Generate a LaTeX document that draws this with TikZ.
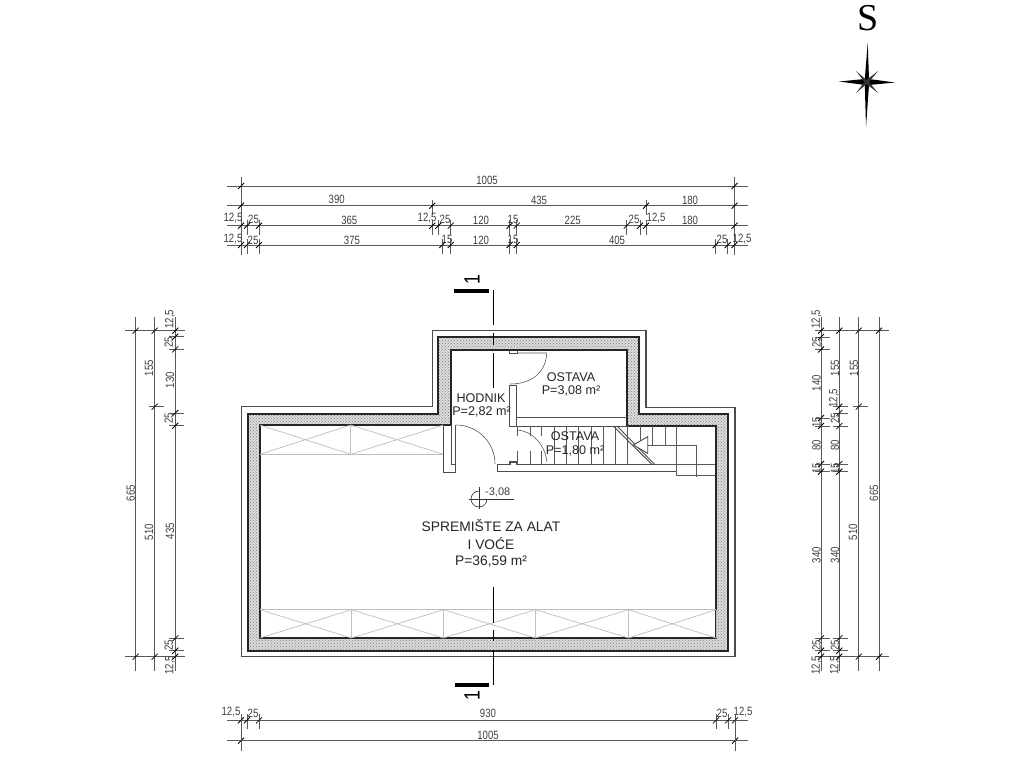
\documentclass[tikz,border=0pt]{standalone}
\usepackage{fontspec}
\setmainfont{Liberation Sans}
\newfontfamily\dimfont[FakeStretch=0.8]{Liberation Sans}
\newfontfamily\compassfont{Liberation Serif}
\usetikzlibrary{patterns}
\tikzset{
	dimline/.style={draw=black!65, line width=0.7pt},
	dimtick/.style={draw=black, line width=0.8pt},
	dimlabel/.style={font=\dimfont\fontsize{12}{12}\selectfont, text=black!75, inner sep=0pt},
	sidelabel/.style={dimlabel, rotate=90},
	roomlabel/.style={font=\fontsize{12.6}{13}\selectfont, text=black!85, inner sep=0pt},
	biglabel/.style={font=\fontsize{13.8}{14}\selectfont, text=black!85, inner sep=0pt},
	wallline/.style={draw=black!85, line width=1.7pt, line join=miter},
	thinwall/.style={draw=black!70, line width=0.9pt},
	stairline/.style={draw=black!65, line width=0.6pt},
	ceilingline/.style={draw=black!25, line width=0.7pt},
	cutline/.style={draw=black, line width=1.5pt},
	cutbar/.style={draw=black, line width=3.6pt},
}
% horizontal chain: row, ticks
\newcommand{\hchain}[2]{
	\foreach \x in {#2} {
		\draw[dimline] (\x,#1-6) -- (\x,#1+9);
		\draw[dimtick] (\x-3,#1+3) -- (\x+3,#1-3);
	}
}
% vertical chain: column, ticks
\newcommand{\vchain}[2]{
	\foreach \y in {#2} {
		\draw[dimline] (#1-6,\y) -- (#1+9,\y);
		\draw[dimtick] (#1-3,\y+3) -- (#1+3,\y-3);
	}
}
\begin{document}
\begin{tikzpicture}[x=1pt, y=-1pt]
	\useasboundingbox (0,0) rectangle (1024,768);
	% walls
	\fill[black!14] (247.7,414) -- (438.3,414) -- (438.3,336.7) -- (639.3,336.7) -- (639.3,414) -- (728.3,414) -- (728.3,651) -- (247.7,651) -- cycle;
	\fill[pattern=crosshatch dots, pattern color=black!50] (247.7,414) -- (438.3,414) -- (438.3,336.7) -- (639.3,336.7) -- (639.3,414) -- (728.3,414) -- (728.3,651) -- (247.7,651) -- cycle;
	\filldraw[wallline, fill=white] (260,425) -- (451,425) -- (451,350) -- (627.3,350) -- (627.3,426) -- (716,426) -- (716,638.3) -- (260,638.3) -- cycle;
	\draw[wallline] (247.7,414) -- (438.3,414) -- (438.3,336.7) -- (639.3,336.7) -- (639.3,414) -- (728.3,414) -- (728.3,651) -- (247.7,651) -- cycle;
	\draw[thinwall, line width=1.2pt] (241.5,406.8) -- (432.7,406.8) -- (432.7,330.7) -- (646,330.7) -- (646,407.3) -- (735,407.3) -- (735,656.7) -- (241.5,656.7) -- cycle;
	% ceiling panels
	\draw[ceilingline] (260,454.3) -- (443.3,454.3);
	\draw[ceilingline] (350.7,425) -- (350.7,454.3);
	\foreach \a/\b in {260/350.7, 350.7/443.3} {
		\draw[ceilingline] (\a,425) -- (\b,454.3);
		\draw[ceilingline] (\a,454.3) -- (\b,425);
	}
	\draw[ceilingline] (260,609.7) -- (716,609.7);
	\foreach \a/\b in {260/351.4, 351.4/443.4, 443.4/535.5, 535.5/628.6, 628.6/716} {
		\draw[ceilingline] (\a,609.7) -- (\b,638);
		\draw[ceilingline] (\a,638) -- (\b,609.7);
		\draw[ceilingline] (\b,609.7) -- (\b,638);
	}
	% inner walls
	\draw[thinwall] (443.3,425) -- (443.3,472) -- (455,472) -- (455,464) -- (451,464) -- (451,425);
	\draw[thinwall] (455.5,425) -- (455.5,464);
	\draw[thinwall] (509.3,350) -- (509.3,353) -- (517,353) -- (517,350);
	\draw[thinwall] (509.3,385.7) -- (509.3,426.7) -- (516.7,426.7) -- (516.7,385.7) -- cycle;
	\draw[thinwall] (516.7,417.7) -- (627.3,417.7);
	\draw[thinwall] (516.7,426) -- (627.3,426);
	\draw[thinwall] (497.3,464.3) -- (497.3,471.7) -- (676.7,471.7);
	\draw[thinwall, line width=1.2pt] (497.3,464.3) -- (510,464.3) -- (510,462) -- (517,462) -- (517,464.3) -- (676.7,464.3);
	% doors
	\draw[stairline] (456,425) arc (-90:0:39);
	\draw[stairline] (517,353) -- (546.7,353) .. controls (546,372) and (532,384) .. (510,384);
	\draw[stairline] (517,430) .. controls (533,431) and (545,445) .. (547,462);
	% stairs
	\foreach \x in {517.3,530,541.7} {
		\draw[stairline] (\x,426) -- (\x,436);
		\draw[stairline] (\x,451) -- (\x,464);
	}
	\foreach \x in {554.3,566,578.3,591,603.3,615.7,627.3} {
		\draw[stairline] (\x,426) -- (\x,464);
	}
	\draw[stairline] (640,426) -- (640,443);
	\draw[stairline] (652.3,426) -- (652.3,445);
	\draw[stairline] (665,426) -- (665,445);
	\draw[stairline] (676.7,426) -- (676.7,476);
	\draw[stairline] (648,445) -- (696.7,445) -- (696.7,476.5);
	\draw[stairline] (651.7,464) -- (715,464);
	\draw[stairline] (676.7,475.5) -- (715,475.5);
	\draw[thinwall] (613.3,426) -- (651.7,464.3);
	\draw[thinwall] (617,426) -- (654.5,464.3);
	\draw[thinwall, fill=white] (647.7,436.7) -- (633.3,445) -- (647.7,453.3) -- cycle;
	% section line
	\draw[cutline] (493.5,290) -- (493.5,325);
	\draw[cutline] (493.5,333) -- (493.5,345);
	\draw[cutline] (493.5,353) -- (493.5,388);
	\draw[cutline] (493.5,587) -- (493.5,623);
	\draw[cutline] (493.5,630) -- (493.5,641);
	\draw[cutline] (493.5,650) -- (493.5,685);
	\draw[cutbar] (454,291) -- (489,291);
	\draw[cutbar] (454.5,685) -- (489,685);
	\node[font=\dimfont\fontsize{22}{22}\selectfont, rotate=90, inner sep=0pt] (cuttop) at (472,280) {1};
	\node[font=\dimfont\fontsize{22}{22}\selectfont, rotate=90, inner sep=0pt] (cutbottom) at (472,695.5) {1};
	% level mark
	\draw[stairline, draw=black!80] (479,491) arc (-90:-360:8);
	\draw[stairline, draw=black!80] (479,487) -- (479,509);
	\draw[stairline, draw=black!80] (469,499) -- (514,499);
	\node[dimlabel, font=\fontsize{11}{12}\selectfont, anchor=west] (level) at (485,492) {-3,08};
	% rooms
	\node[biglabel] (storeA) at (491,525.5) {SPREMIŠTE ZA ALAT};
	\node[biglabel] (storeB) at (491,543.5) {I VOĆE};
	\node[biglabel] (storeC) at (491,561.5) {P=36,59 m²};
	\node[roomlabel] (hallA) at (481,397.7) {HODNIK};
	\node[roomlabel] (hallB) at (481.5,412) {P=2,82 m²};
	\node[roomlabel] (pantryA) at (571,376.7) {OSTAVA};
	\node[roomlabel] (pantryB) at (571,391) {P=3,08 m²};
	\node[roomlabel] (stairA) at (575,435.7) {OSTAVA};
	\node[roomlabel] (stairB) at (575,450.7) {P=1,80 m²};
	% top chains
	\draw[dimline] (227,186) -- (748,186);
	\draw[dimline] (227,205.7) -- (748,205.7);
	\draw[dimline] (227,225.7) -- (748,225.7);
	\draw[dimline] (227,245) -- (748,245);
	\draw[dimline] (241,177) -- (241,255);
	\draw[dimline] (734.5,177) -- (734.5,255);
	\hchain{186}{241,734.5}
	\hchain{205.7}{241,432.3,646,734.5}
	\hchain{225.7}{241,247,259,432.3,438.3,450.7,509.5,516.7,626.7,640,646,734.5}
	\hchain{245}{241,247,259,442.3,450.7,509.5,516.7,715.7,727.7,734.5}
	\foreach \x/\y/\t [count=\i] in {487/180/1005, 336.7/199.7/390, 539/200/435, 690/200/180,
		233/218/{12,5}, 253.5/219/25, 349.3/220/365, 427/218/{12,5}, 445/219/25, 481/220/120, 513/219.5/15, 572.7/220/225, 634/219/25, 656/218/{12,5}, 690/220/180,
		233/239/{12,5}, 253/240/25, 352/240/375, 447/239/15, 481/240/120, 513/239/15, 617/240/405, 722/239/25, 742/239/{12,5}} {
		\node[dimlabel] (top\i) at (\x,\y) {\t};
	}
	% bottom chains
	\draw[dimline] (227,720.3) -- (748,720.3);
	\draw[dimline] (227,740.7) -- (748,740.7);
	\hchain{720.3}{241,247,259,716,728,735}
	\hchain{740.7}{241,735}
	\draw[dimline] (241,720) -- (241,751);
	\draw[dimline] (735,720) -- (735,751);
	\foreach \x/\y/\t [count=\i] in {231/712/{12,5}, 253/713/25, 488/713/930, 722/713/25, 743/712/{12,5}, 488/735/1005} {
		\node[dimlabel] (bot\i) at (\x,\y) {\t};
	}
	% left chains
	\foreach \x in {135.7,154.7,175.3} {
		\draw[dimline] (\x,316.7) -- (\x,670.7);
	}
	\draw[dimline] (125,330.7) -- (185,330.7);
	\draw[dimline] (125,656.7) -- (185,656.7);
	\vchain{135.7}{330.7,656.7}
	\vchain{154.7}{330.7,406.7,656.7}
	\vchain{175.3}{330.7,336.7,349.3,413,425.7,638.3,650.7,656.7}
	\foreach \x/\y/\t [count=\i] in {130.7/493/665, 149/368/155, 149/532/510, 170/319/{12,5}, 168.7/342/25, 170/380/130, 168.7/418/25, 170/531/435, 168.7/645/25, 170/665/{12,5}} {
		\node[sidelabel] (left\i) at (\x,\y) {\t};
	}
	% right chains
	\foreach \x in {821,839.3,858.7,879} {
		\draw[dimline] (\x,316.7) -- (\x,670.7);
	}
	\draw[dimline] (818,330.7) -- (889,330.7);
	\draw[dimline] (818,656.7) -- (889,656.7);
	\vchain{821}{330.7,337,349.5,418,426,464,471.7,638.3,650.7,656.7}
	\vchain{839.3}{330.7,406.7,413,426,464,471.7,638.3,650.7,656.7}
	\vchain{858.7}{330.7,406.7,656.7}
	\vchain{879}{330.7,656.7}
	\foreach \x/\y/\t [count=\i] in {816.5/319/{12,5}, 816.5/342/25, 816.5/383/140, 816.5/422/15, 816.5/445/80, 816.5/468/15, 816.5/555/340, 816.5/645/25, 816.5/665/{12,5},
		835/368/155, 834/398/{12,5}, 835/418/25, 835/445/80, 835/468/15, 835/555/340, 835/645/25, 835/665/{12,5},
		854/368/155, 853/532/510, 874/493/665} {
		\node[sidelabel] (right\i) at (\x,\y) {\t};
	}
	% compass
	\node[font=\compassfont\fontsize{38}{38}\selectfont, inner sep=0pt] (north) at (868.5,18.5) {S};
	\fill[black] (867.7,43) -- (869,79) -- (895,82.5) -- (869,85) -- (866,127) -- (864.8,85) -- (839,81.5) -- (864.8,79) -- cycle;
	\fill[black!80] (856,71) -- (866.5,80) -- (878,71) -- (869,82) -- (878,93) -- (866.5,84) -- (856,93) -- (864.5,82) -- cycle;
\end{tikzpicture}
\end{document}
